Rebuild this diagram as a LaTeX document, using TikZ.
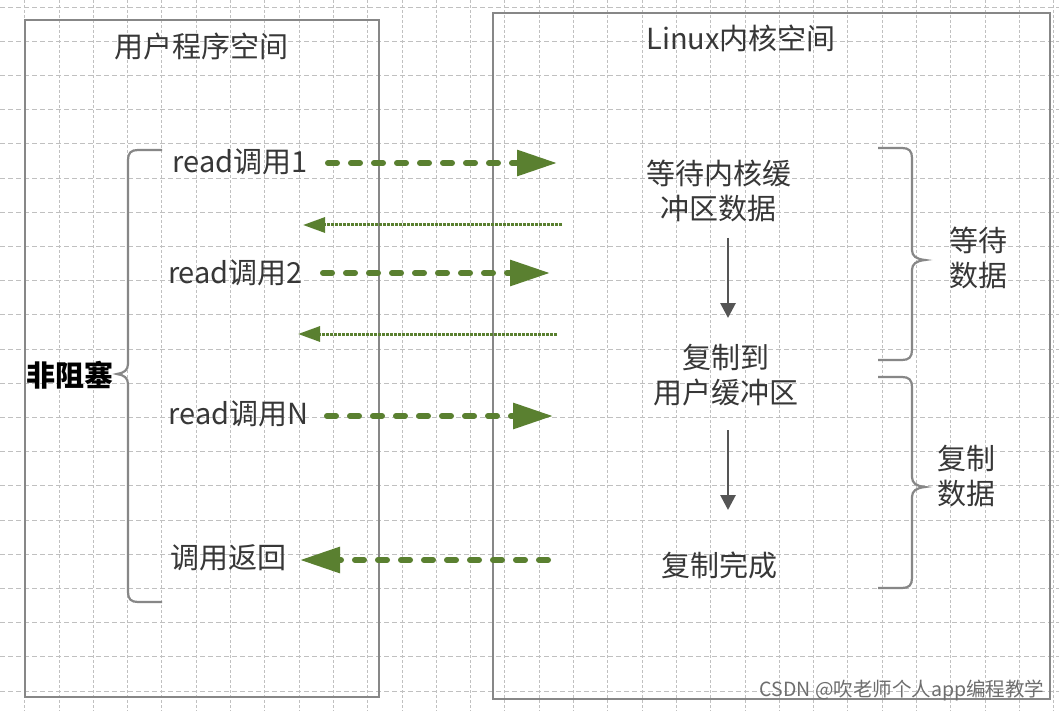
\documentclass[tikz,border=0pt]{standalone}
\usepackage{fontspec}
\setmainfont{Noto Sans CJK SC}
\usetikzlibrary{arrows.meta}
\definecolor{gridc}{RGB}{192,192,192}
\definecolor{boxc}{RGB}{135,135,135}
\definecolor{txt}{RGB}{55,55,55}
\definecolor{grn}{RGB}{90,128,48}
\definecolor{arrg}{RGB}{85,85,85}
\definecolor{wm}{RGB}{110,110,110}
\begin{document}
\begin{tikzpicture}[x=1pt,y=-1pt,
  lbl/.style={text=txt,font=\fontsize{29}{35}\selectfont,inner sep=0pt,align=center},
  boxl/.style={draw=boxc,line width=2.5pt,inner sep=0pt},
  brace/.style={draw=boxc,line width=2.2pt},
  call/.style={draw=grn,line width=6pt,line cap=round,dash pattern=on 9pt off 14pt,-{Triangle[length=40pt,width=25pt]}},
  back/.style={draw=grn,line width=3pt,dash pattern=on 3pt off 1pt,-{Triangle[length=22pt,width=15pt]}},
  flow/.style={draw=arrg,line width=2.8pt,-{Triangle[length=15pt,width=15pt]}},
  gridl/.style={draw=gridc,line width=0.9pt}]
\useasboundingbox (0,0) rectangle (1059,711);
\fill[white] (0,0) rectangle (1059,711);
% grid
\foreach \k in {0,...,30} \draw[gridl,dash pattern=on 3pt off 2pt] ({24.7+34.3*\k},0) -- ({24.7+34.3*\k},711);
\foreach \k in {0,...,20} \draw[gridl,dash pattern=on 5pt off 3pt] (0,{7+34.2*\k}) -- (1059,{7+34.2*\k});
% boxes
\node[boxl,minimum width=354pt,minimum height=677pt] (user) at (202,358.5) {};
\node[boxl,minimum width=557pt,minimum height=686pt] (kern) at (771.5,356) {};
% texts
\node[lbl] (t1) at (201,46) {用户程序空间};
\node[lbl] (t2) at (741,38) {Linux内核空间};
\node[lbl] (r1) at (240,162) {read调用1};
\node[lbl] (r2) at (235.5,273) {read调用2};
\node[lbl] (rn) at (238.5,414) {read调用N};
\node[lbl] (ret) at (228.5,558) {调用返回};
\node[lbl,text=black,font=\bfseries\fontsize{29}{35}\selectfont] (nb) at (70,375) {非阻塞};
\node[lbl] (wait) at (718.5,190.5) {等待内核缓\\冲区数据};
\node[lbl] (copyto) at (726,375.5) {复制到\\用户缓冲区};
\node[lbl] (done) at (719.5,565.5) {复制完成};
\node[lbl] (wd) at (978.5,257.5) {等待\\数据};
\node[lbl] (cd) at (966,476) {复制\\数据};
\node[text=wm,font=\fontsize{19.5}{22}\selectfont,inner sep=0pt] (wmk) at (902,690) {CSDN @吹老师个人app编程教学};
% arrow end points
\coordinate (a1s) at (328,163); \coordinate (a1e) at (557,163);
\coordinate (b1s) at (562,225); \coordinate (b1e) at (303,225);
\coordinate (a2s) at (323,273); \coordinate (a2e) at (550,273);
\coordinate (b2s) at (557,334); \coordinate (b2e) at (298,334);
\coordinate (ans) at (327,416); \coordinate (ane) at (553,416);
\coordinate (rs) at (548,560); \coordinate (re) at (300,560);
\coordinate (v1s) at (728,238); \coordinate (v1e) at (728,318);
\coordinate (v2s) at (728,430); \coordinate (v2e) at (728,510);
\draw[call] (a1s) -- (a1e);
\draw[back] (b1s) -- (b1e);
\draw[call] (a2s) -- (a2e);
\draw[back] (b2s) -- (b2e);
\draw[call] (ans) -- (ane);
\draw[call] (rs) -- (re);
\draw[flow] (v1s) -- (v1e);
\draw[flow] (v2s) -- (v2e);
% braces
\draw[brace] (162,150) -- (138,150) .. controls (131,150) and (128,153) .. (128,160) -- (128,364)
  .. controls (128,370) and (124,373) .. (117,374) .. controls (124,375) and (128,378) .. (128,384)
  -- (128,592) .. controls (128,599) and (131,602) .. (138,602) -- (162,602);
\draw[brace] (878,148) -- (902,148) .. controls (909,148) and (912,151) .. (912,158) -- (912,250)
  .. controls (912,256) and (916,259) .. (925,260) .. controls (916,261) and (912,264) .. (912,270)
  -- (912,350) .. controls (912,357) and (909,360) .. (902,360) -- (878,360);
\draw[brace] (878,377) -- (902,377) .. controls (909,377) and (912,380) .. (912,387) -- (912,477)
  .. controls (912,483) and (916,486) .. (925,487) .. controls (916,488) and (912,491) .. (912,497)
  -- (912,578) .. controls (912,585) and (909,588) .. (902,588) -- (878,588);
\end{tikzpicture}
\end{document}
